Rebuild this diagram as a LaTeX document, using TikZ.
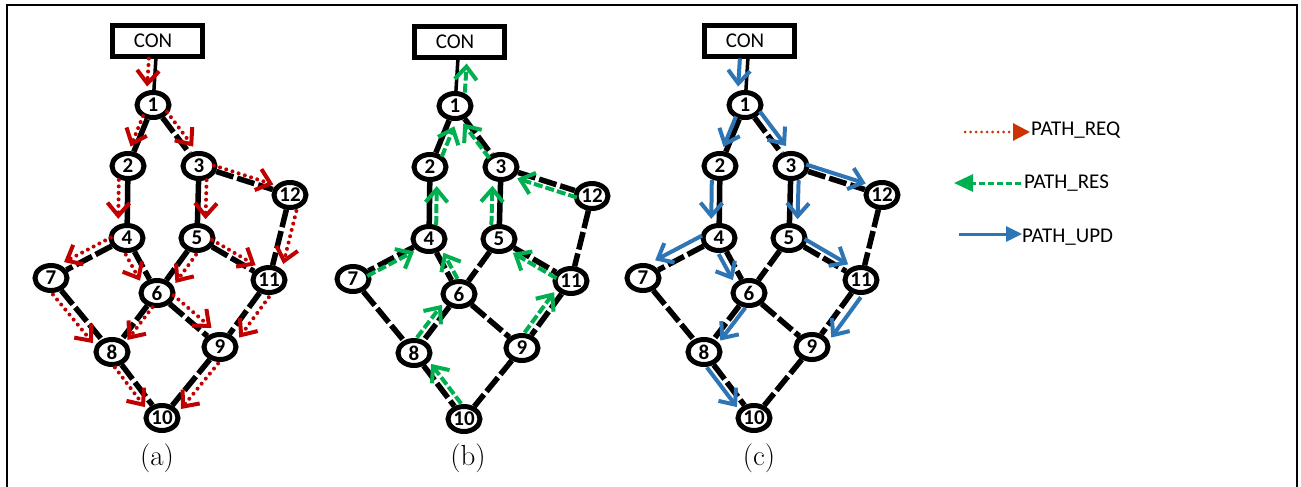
\documentclass[tikz,border=0pt]{standalone}
\usepackage{fontspec}
\newfontfamily\carl{Carlito}
\usetikzlibrary{shapes.geometric,arrows.meta,calc}
\definecolor{reqred}{RGB}{192,0,0}
\definecolor{legred}{RGB}{204,51,0}
\definecolor{resgreen}{RGB}{0,176,80}
\definecolor{updblue}{RGB}{46,117,182}
\tikzset{
  nd/.style={ellipse, draw, line width=5pt, fill=white, minimum width=32pt, minimum height=25pt, inner sep=0pt, font=\carl\bfseries\fontsize{21}{21}\selectfont},
  conbox/.style={rectangle, draw, line width=5pt, fill=white, minimum width=90pt, minimum height=31pt, inner sep=0pt, font=\carl\fontsize{21}{21}\selectfont},
  dedge/.style={line width=5.5pt, dash pattern=on 18pt off 4pt},
  sedge/.style={line width=5.5pt},
  cedge/.style={line width=3.5pt},
  arrbase/.style={line width=4pt, shorten <=14pt, shorten >=19pt, -{Straight Barb[length=13pt,width=22pt]}},
  req/.style={arrbase, draw=reqred, line cap=round, dash pattern=on 0pt off 6.5pt},
  res/.style={arrbase, draw=resgreen, dash pattern=on 9pt off 3pt},
  upd/.style={arrbase, draw=updblue},
  sublabel/.style={font=\fontsize{29}{29}\selectfont, inner sep=0pt},
  legtxt/.style={font=\carl\fontsize{21}{21}\selectfont, inner sep=0pt, anchor=base west},
}
\newcommand{\parr}[5][]{\draw[#2,#1] ($(#3)!#5!-90:(#4)$) -- ($(#4)!#5!90:(#3)$);}
\newcommand{\mygraph}[3]{%
\begin{scope}[shift={(#2,#3)}]
\node[conbox] (#1-c) at (4,-64) {\hspace*{-8pt}CON};
\node[nd] (#1-1) at (0,0) {1};
\node[nd] (#1-2) at (-25,61) {2};
\node[nd] (#1-3) at (46,61) {3};
\node[nd] (#1-12) at (137,90) {12};
\node[nd] (#1-4) at (-26,133) {4};
\node[nd] (#1-5) at (44,133) {5};
\node[nd] (#1-7) at (-102,173) {7};
\node[nd] (#1-6) at (4,188) {6};
\node[nd] (#1-11) at (116,175) {11};
\node[nd] (#1-8) at (-41,247) {8};
\node[nd] (#1-9) at (67,242) {9};
\node[nd] (#1-10) at (9,313) {10};
\end{scope}
\draw[cedge] (#1-c) -- (#1-1);
\draw[sedge] (#1-1) -- (#1-2);
\draw[dedge] (#1-1) -- (#1-3);
\draw[sedge] (#1-2) -- (#1-4);
\draw[sedge] (#1-3) -- (#1-5);
\draw[dedge] (#1-3) -- (#1-12);
\draw[dedge] (#1-12) -- (#1-11);
\draw[dedge] (#1-4) -- (#1-7);
\draw[dedge] (#1-4) -- (#1-6);
\draw[dedge] (#1-5) -- (#1-6);
\draw[dedge] (#1-5) -- (#1-11);
\draw[dedge] (#1-7) -- (#1-8);
\draw[dedge] (#1-6) -- (#1-8);
\draw[dedge] (#1-6) -- (#1-9);
\draw[dedge] (#1-11) -- (#1-9);
\draw[dedge] (#1-8) -- (#1-10);
\draw[dedge] (#1-9) -- (#1-10);
}
\begin{document}
\begin{tikzpicture}[x=1pt,y=-1pt]
\useasboundingbox (0,0) rectangle (1301,487);
\fill[white] (0,0) rectangle (1301,487);
\draw[line width=2pt] (7,487) -- (7,5.5) -- (1297,5.5) -- (1297,487);
% panels
\mygraph{a}{153}{105}
\mygraph{b}{455}{106}
\mygraph{c}{745}{105}
% (a) PATH_REQ
\parr[shorten <=18pt, shorten >=18pt]{req}{a-c}{a-1}{7pt}
\parr{req}{a-1}{a-2}{5pt}
\parr{req}{a-1}{a-3}{-7pt}
\parr{req}{a-2}{a-4}{9pt}
\parr{req}{a-3}{a-5}{-8pt}
\parr{req}{a-3}{a-12}{-5pt}
\parr{req}{a-12}{a-11}{-10pt}
\parr{req}{a-4}{a-7}{8pt}
\parr{req}{a-4}{a-6}{9pt}
\parr{req}{a-5}{a-6}{-9pt}
\parr{req}{a-5}{a-11}{-6pt}
\parr{req}{a-7}{a-8}{9pt}
\parr{req}{a-6}{a-8}{-5pt}
\parr{req}{a-6}{a-9}{-9pt}
\parr{req}{a-11}{a-9}{-10pt}
\parr{req}{a-8}{a-10}{7pt}
\parr{req}{a-9}{a-10}{-9pt}
% (b) PATH_RES
\parr[shorten >=21pt]{res}{b-1}{b-c}{9pt}
\parr{res}{b-2}{b-1}{7pt}
\parr{res}{b-3}{b-1}{-4pt}
\parr{res}{b-4}{b-2}{7pt}
\parr{res}{b-5}{b-3}{-8pt}
\parr{res}{b-12}{b-3}{-6pt}
\parr{res}{b-7}{b-4}{4pt}
\parr{res}{b-6}{b-4}{6pt}
\parr{res}{b-8}{b-6}{-7pt}
\parr{res}{b-10}{b-8}{7pt}
\parr{res}{b-11}{b-5}{-5pt}
\parr{res}{b-9}{b-11}{-7pt}
% (c) PATH_UPD
\parr[shorten <=18pt, shorten >=18pt]{upd}{c-c}{c-1}{8pt}
\parr{upd}{c-1}{c-2}{4pt}
\parr{upd}{c-1}{c-3}{-8pt}
\parr{upd}{c-2}{c-4}{8pt}
\parr{upd}{c-3}{c-5}{-8pt}
\parr{upd}{c-3}{c-12}{-6pt}
\parr{upd}{c-4}{c-7}{10pt}
\parr{upd}{c-4}{c-6}{8pt}
\parr{upd}{c-5}{c-11}{-7pt}
\parr{upd}{c-6}{c-8}{-6pt}
\parr{upd}{c-11}{c-9}{-10pt}
\parr{upd}{c-8}{c-10}{7pt}
% sub labels
\node[sublabel] (la) at (157,458) {(a)};
\node[sublabel] (lb) at (468,458) {(b)};
\node[sublabel] (lc) at (759,458) {(c)};
% legend
\coordinate (rq1) at (965,132);
\coordinate (rq2) at (1030,132);
\draw[legred, line width=3pt, line cap=round, dash pattern=on 0pt off 5.5pt, -{Triangle[length=17pt,width=17pt]}] (rq1) -- (rq2);
\node[legtxt] (lreq) at (1031,135) {PATH\_REQ};
\coordinate (rs1) at (1021,183);
\coordinate (rs2) at (954,183);
\draw[resgreen, line width=3pt, dash pattern=on 6pt off 3pt, -{Triangle[length=19pt,width=17pt]}] (rs1) -- (rs2);
\node[legtxt] (lres) at (1024,188) {PATH\_RES};
\coordinate (up1) at (959,234);
\coordinate (up2) at (1022,234);
\draw[updblue, line width=3pt, -{Triangle[length=16pt,width=15pt]}] (up1) -- (up2);
\node[legtxt] (lupd) at (1022,242) {PATH\_UPD};
\end{tikzpicture}
\end{document}
